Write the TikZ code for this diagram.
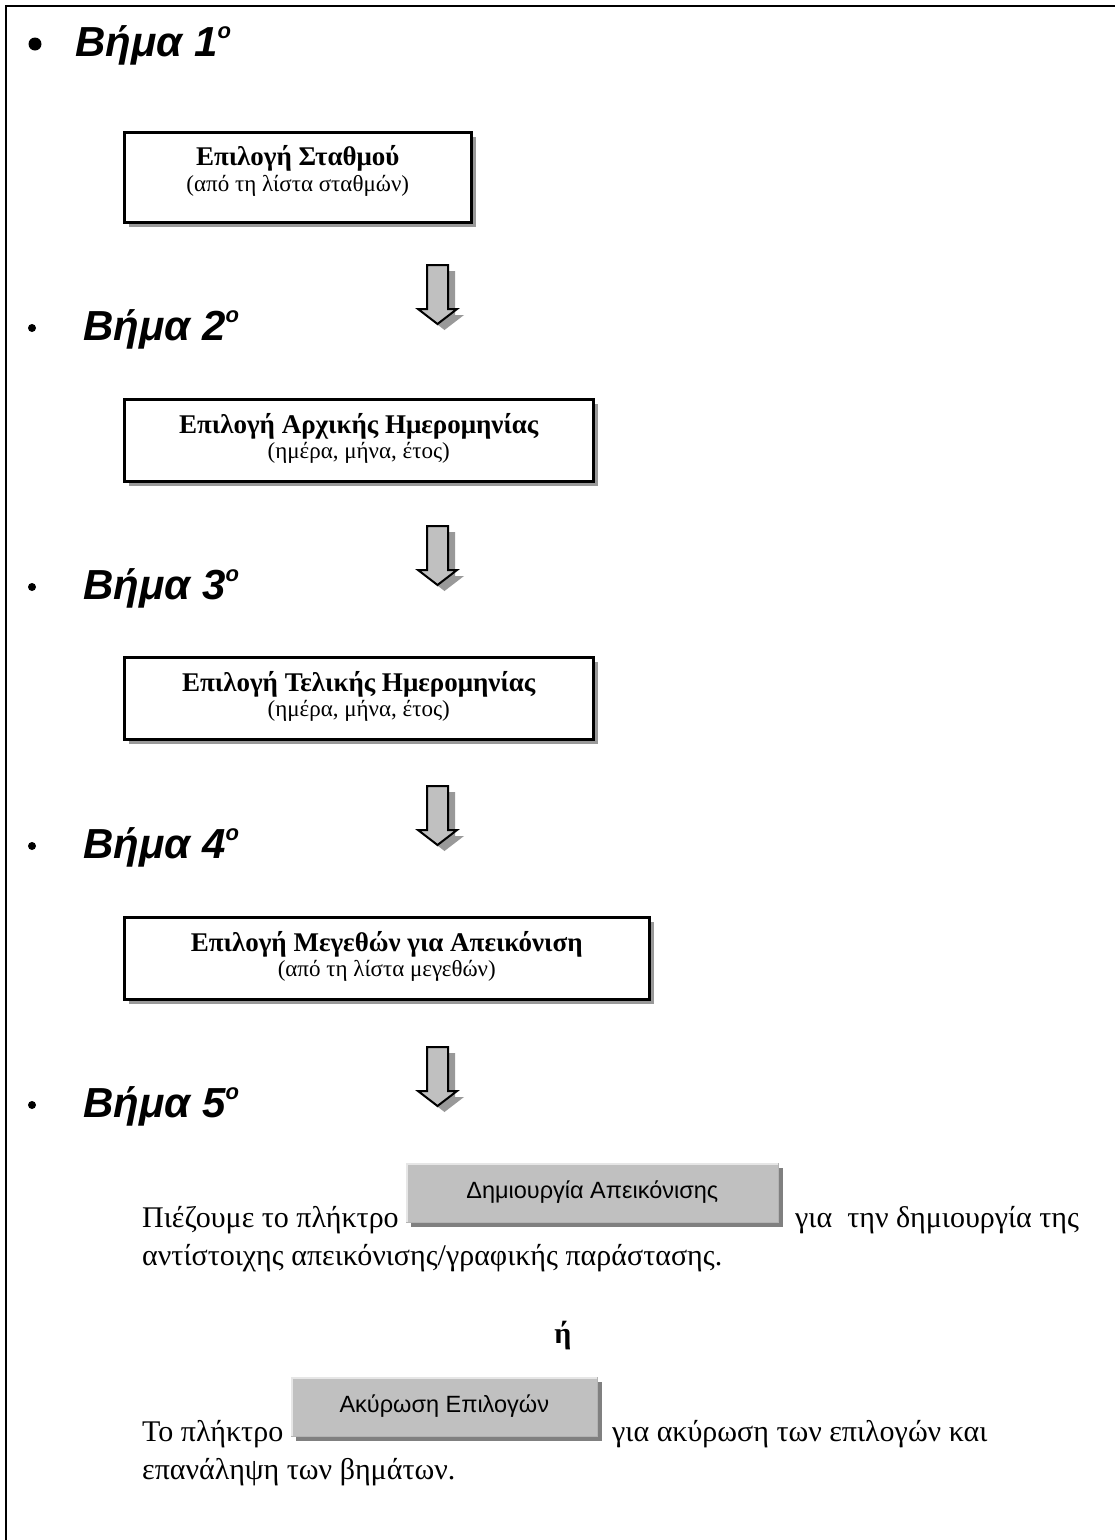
\documentclass[tikz,border=0pt]{standalone}
\usepackage{fontspec}
\setmainfont{Liberation Serif}
\setsansfont{Liberation Sans}
\usetikzlibrary{shadows}
\definecolor{arrowgray}{HTML}{C0C0C0}
\definecolor{shadowgray}{HTML}{999999}
\definecolor{btngray}{HTML}{C0C0C0}
\definecolor{btndark}{HTML}{808080}
\definecolor{btnlight}{HTML}{E6E6E6}
% raised "o" after the step number
\newcommand\ordmark{\raisebox{18pt}{\fontsize{22}{22}\selectfont o}}
\begin{document}
\begin{tikzpicture}[x=1pt,y=-1pt,
  steptext/.style={anchor=base west, inner sep=0pt,
    font=\sffamily\bfseries\itshape\fontsize{42}{48}\selectfont},
  bigdot/.style={circle, fill=black, inner sep=0pt, minimum size=13pt},
  smalldot/.style={circle, fill=black, inner sep=0pt, minimum size=8pt},
  choicebox/.style={draw=black, line width=2.5pt, fill=white, anchor=north west,
    inner sep=0pt, minimum height=82pt,
    drop shadow={shadow xshift=5pt, shadow yshift=-5pt, fill=shadowgray, opacity=1}},
  boxtitle/.style={anchor=base, inner sep=0pt, font=\bfseries\fontsize{27}{31}\selectfont},
  boxsub/.style={anchor=base, inner sep=0pt, font=\fontsize{23}{27}\selectfont},
  bodytext/.style={anchor=base west, inner sep=0pt, font=\fontsize{30}{36}\selectfont},
  button/.style={fill=btngray, draw=btndark!60, line width=0.6pt, anchor=north west,
    inner sep=0pt, minimum height=59pt,
    drop shadow={shadow xshift=5pt, shadow yshift=-5pt, fill=btndark, opacity=1}},
  btnlabel/.style={anchor=base, inner sep=0pt, font=\sffamily\fontsize{23.5}{27}\selectfont},
  pics/downarrow/.style={code={
    \fill[shadowgray] (7,6) -- (28,6) -- (28,50) -- (37,50) -- (17.5,65) -- (-2,50) -- (7,50) -- cycle;
    \draw[line width=2pt, fill=arrowgray, line join=miter]
      (0,0) -- (21,0) -- (21,44) -- (30,44) -- (10.5,59) -- (-9,44) -- (0,44) -- cycle;
  }}
]
\useasboundingbox (0,0) rectangle (1115,1540);
% page frame (runs past the right and bottom edges)
\draw[line width=2.5pt] (6,1560) -- (6,6) -- (1140,6);

% step headings
\node[bigdot] (d1) at (35,44) {};
\node[steptext] (s1) at (75,56) {Βήμα 1\ordmark};
\node[smalldot] (d2) at (32,328) {};
\node[steptext] (s2) at (83,340) {Βήμα 2\ordmark};
\node[smalldot] (d3) at (32,587) {};
\node[steptext] (s3) at (83,599) {Βήμα 3\ordmark};
\node[smalldot] (d4) at (32,846) {};
\node[steptext] (s4) at (83,858) {Βήμα 4\ordmark};
\node[smalldot] (d5) at (32,1105) {};
\node[steptext] (s5) at (83,1117) {Βήμα 5\ordmark};

% choice boxes
\node[choicebox, minimum width=347pt, minimum height=90pt] (b1) at (123,131) {};
\node[boxtitle] (b1t) at ([yshift=-34pt]b1.north) {Επιλογή Σταθμού};
\node[boxsub] (b1s) at ([yshift=-60pt]b1.north) {(από τη λίστα σταθμών)};

\node[choicebox, minimum width=469pt] (b2) at (123,398) {};
\node[boxtitle] (b2t) at ([yshift=-35pt]b2.north) {Επιλογή Αρχικής Ημερομηνίας};
\node[boxsub] (b2s) at ([yshift=-60pt]b2.north) {(ημέρα, μήνα, έτος)};

\node[choicebox, minimum width=469pt] (b3) at (123,656) {};
\node[boxtitle] (b3t) at ([yshift=-35pt]b3.north) {Επιλογή Τελικής Ημερομηνίας};
\node[boxsub] (b3s) at ([yshift=-60pt]b3.north) {(ημέρα, μήνα, έτος)};

\node[choicebox, minimum width=525pt] (b4) at (123,916) {};
\node[boxtitle] (b4t) at ([yshift=-35pt]b4.north) {Επιλογή Μεγεθών για Απεικόνιση};
\node[boxsub] (b4s) at ([yshift=-60pt]b4.north) {(από τη λίστα μεγεθών)};

% block arrows between the steps
\pic at (427,265) {downarrow};
\pic at (427,526) {downarrow};
\pic at (427,786) {downarrow};
\pic at (427,1047) {downarrow};

% step 5: text with the two buttons
\node[button, minimum width=372pt] (btn1) at (406,1163) {};
\draw[btnlight, line width=1.5pt] ([shift={(1pt,1pt)}]btn1.south west) -- ([shift={(1pt,-1pt)}]btn1.north west) -- ([shift={(-1pt,-1pt)}]btn1.north east);
\node[btnlabel] (btn1t) at ([yshift=-35pt]btn1.north) {Δημιουργία Απεικόνισης};
\node[bodytext] (t1) at (142,1227) {Πιέζουμε το πλήκτρο};
\node[bodytext] (t2) at (795,1227) {για\ \ την δημιουργία της};
\node[bodytext] (t3) at (142,1265) {αντίστοιχης απεικόνισης/γραφικής παράστασης.};
\node[anchor=base, inner sep=0pt, font=\bfseries\fontsize{30}{36}\selectfont] (or) at (563,1343) {ή};
\node[button, minimum width=306pt] (btn2) at (291,1377) {};
\draw[btnlight, line width=1.5pt] ([shift={(1pt,1pt)}]btn2.south west) -- ([shift={(1pt,-1pt)}]btn2.north west) -- ([shift={(-1pt,-1pt)}]btn2.north east);
\node[btnlabel] (btn2t) at ([yshift=-35pt]btn2.north) {Ακύρωση Επιλογών};
\node[bodytext] (t4) at (142,1441) {Το πλήκτρο};
\node[bodytext] (t5) at (612,1441) {για ακύρωση των επιλογών και};
\node[bodytext] (t6) at (142,1479) {επανάληψη των βημάτων.};
\end{tikzpicture}
\end{document}
